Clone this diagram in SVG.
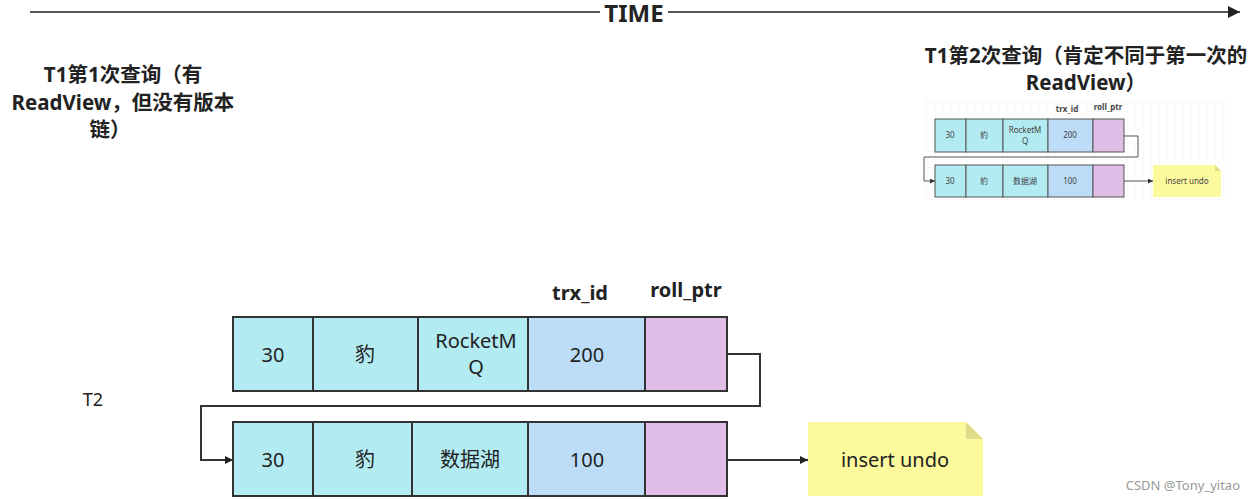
<svg xmlns="http://www.w3.org/2000/svg" width="1253" height="499" viewBox="0 0 1253 499">
<style>
text{font-family:"Noto Sans","Noto Sans CJK SC",sans-serif;fill:#222}
.b{font-weight:bold}
.c{stroke:#333;stroke-width:2}
.cy{fill:#b3ebf2}.bl{fill:#bcdcf7}.pk{fill:#e1bee7}
.s{stroke:#555;stroke-width:1}
.t{font-size:20px;text-anchor:middle}
.ts{font-size:8px;text-anchor:middle;fill:#444}
.h{font-size:20.5px;font-weight:bold;text-anchor:middle}
.ln{fill:none;stroke:#333;stroke-width:2}
.lns{fill:none;stroke:#555;stroke-width:1}
</style>
<defs>
<marker id="a" viewBox="0 0 10 10" refX="10" refY="5" markerWidth="8" markerHeight="8" markerUnits="userSpaceOnUse" orient="auto"><path d="M0,0L10,5L0,10z" fill="#222"/></marker>
<marker id="am" viewBox="0 0 10 10" refX="10" refY="5" markerWidth="12" markerHeight="12" markerUnits="userSpaceOnUse" orient="auto"><path d="M0,0L10,5L0,10z" fill="#222"/></marker>
<marker id="asm" viewBox="0 0 10 10" refX="10" refY="5" markerWidth="5" markerHeight="5" markerUnits="userSpaceOnUse" orient="auto"><path d="M0,0L10,5L0,10z" fill="#333"/></marker>
<pattern id="g" width="8" height="8" patternUnits="userSpaceOnUse"><path d="M8,0V8H0" fill="none" stroke="#eee" stroke-width="0.6"/></pattern>
</defs>
<rect width="1253" height="499" fill="#fff"/>
<g id="timeline">
<line x1="30" y1="12" x2="600" y2="12" stroke="#222" stroke-width="1.5"/>
<line x1="668" y1="12" x2="1240" y2="12" stroke="#222" stroke-width="1.5" marker-end="url(#am)"/>
<text x="634" y="22" class="b" font-size="24" text-anchor="middle">TIME</text>
</g>
<g id="label-t1-first">
<text x="123" y="82" class="h">T1第1次查询（有</text>
<text x="123" y="110" class="h">ReadView，但没有版本</text>
<text x="110" y="137" class="h">链）</text>
</g>
<g id="label-t1-second">
<text x="1086" y="63" class="h">T1第2次查询（肯定不同于第一次的</text>
<text x="1086" y="90" class="h">ReadView）</text>
</g>
<g id="thumbnail">
<rect x="922" y="98" width="306" height="104" fill="url(#g)"/>
<text x="1067" y="112" class="ts b">trx_id</text>
<text x="1108" y="110" class="ts b">roll_ptr</text>
<g class="s">
<rect x="935" y="119" width="31" height="33" class="cy"/><rect x="966" y="119" width="37" height="33" class="cy"/><rect x="1003" y="119" width="45" height="33" class="cy"/><rect x="1048" y="119" width="45" height="33" class="bl"/><rect x="1093" y="119" width="31" height="33" class="pk"/>
<rect x="935" y="165" width="31" height="32" class="cy"/><rect x="966" y="165" width="37" height="32" class="cy"/><rect x="1003" y="165" width="45" height="32" class="cy"/><rect x="1048" y="165" width="45" height="32" class="bl"/><rect x="1093" y="165" width="31" height="32" class="pk"/>
</g>
<text x="950" y="138" class="ts">30</text><text x="984" y="138" class="ts">豹</text><text x="1025" y="133" class="ts">RocketM</text><text x="1025" y="144" class="ts">Q</text><text x="1070" y="138" class="ts">200</text>
<text x="950" y="184" class="ts">30</text><text x="984" y="184" class="ts">豹</text><text x="1025" y="184" class="ts">数据湖</text><text x="1070" y="184" class="ts">100</text>
<path d="M1124,136H1138V157H924V181H935" class="lns" marker-end="url(#asm)"/>
<path d="M1124,181H1153" class="lns" marker-end="url(#asm)"/>
<path d="M1153,165H1215L1221,171V197H1153Z" fill="#fdfa9e"/>
<path d="M1215,165V171H1221Z" fill="#e0dc8a"/>
<text x="1187" y="184" class="ts">insert undo</text>
</g>
<g id="header-labels">
<text x="580" y="300" class="b" font-size="20" text-anchor="middle">trx_id</text>
<text x="686" y="297" class="b" font-size="20" text-anchor="middle">roll_ptr</text>
</g>
<text x="93" y="406" font-size="18" text-anchor="middle">T2</text>
<g id="row1" class="c">
<rect x="233" y="317" width="80" height="74" class="cy"/><rect x="313" y="317" width="105" height="74" class="cy"/><rect x="418" y="317" width="110" height="74" class="cy"/><rect x="528" y="317" width="117" height="74" class="bl"/><rect x="645" y="317" width="82" height="74" class="pk"/>
</g>
<g id="row1-text">
<text x="273" y="362" class="t">30</text><text x="365" y="362" class="t">豹</text><text x="476" y="348" class="t">RocketM</text><text x="476" y="374" class="t">Q</text><text x="587" y="362" class="t">200</text>
</g>
<g id="row2" class="c">
<rect x="233" y="422" width="80" height="74" class="cy"/><rect x="313" y="422" width="99" height="74" class="cy"/><rect x="412" y="422" width="116" height="74" class="cy"/><rect x="528" y="422" width="117" height="74" class="bl"/><rect x="645" y="422" width="82" height="74" class="pk"/>
</g>
<g id="row2-text">
<text x="273" y="467" class="t">30</text><text x="365" y="467" class="t">豹</text><text x="470" y="467" class="t">数据湖</text><text x="587" y="467" class="t">100</text>
</g>
<g id="note">
<path d="M808,422H966L983,439V496H808Z" fill="#fdfa9e"/>
<path d="M966,422V439H983Z" fill="#e0dc8a"/>
<text x="895" y="467" class="t">insert undo</text>
</g>
<g id="connectors">
<path d="M727,354H760V406H201V460H233" class="ln" marker-end="url(#a)"/>
<path d="M727,460H808" class="ln" marker-end="url(#a)"/>
</g>
<text x="1240" y="490" font-size="13" text-anchor="end" style="fill:#999">CSDN @Tony_yitao</text>
</svg>
